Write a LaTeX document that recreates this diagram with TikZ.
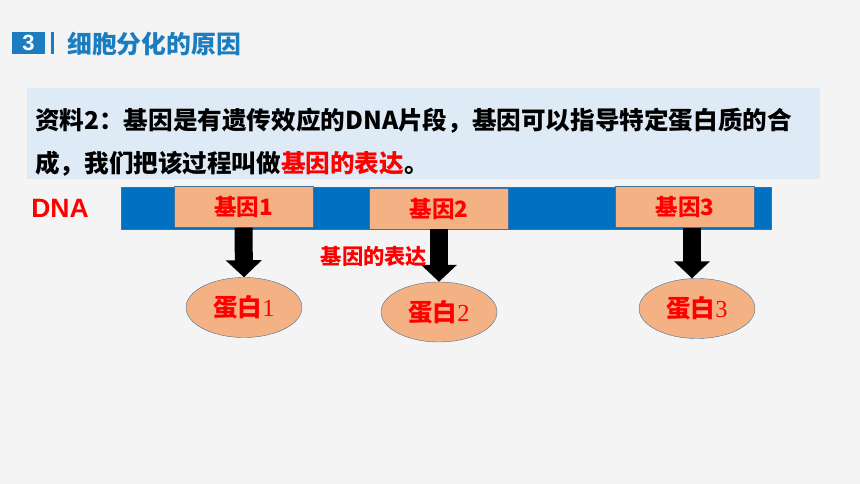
\documentclass[tikz,border=0pt]{standalone}
\usepackage{fontspec}
\setmainfont{Liberation Sans}
\newfontfamily\cjk{Noto Sans CJK SC}
\newfontfamily\serifnum{Liberation Serif}
\usetikzlibrary{shapes.geometric,arrows.meta}
\definecolor{bgcol}{HTML}{F4F4F4}
\definecolor{titleblue}{HTML}{1B7DC0}
\definecolor{panelblue}{HTML}{DEEBF7}
\definecolor{dnablue}{HTML}{0070C0}
\definecolor{genefill}{HTML}{F4B183}
\definecolor{geneline}{HTML}{41719C}
\newcommand{\px}[1]{\fontsize{#1}{#1}\selectfont}
\tikzset{
  gene/.style={draw=geneline, fill=genefill, minimum width=139pt, minimum height=41pt,
    inner sep=0pt, text=red, font=\cjk\bfseries\px{22.5}},
  prot/.style={ellipse, draw=geneline, fill=genefill, minimum width=116pt, minimum height=60pt,
    inner sep=0pt, text=red, font=\px{24.5}},
  expr/.style={line width=18pt, -{Triangle[width=35pt,length=17pt]}}
}
\begin{document}
\begin{tikzpicture}[x=1pt,y=-1pt]
    \fill[bgcol]
(0,0) rectangle
(860,484);
    \node[fill=titleblue, text=white, minimum width=33pt, minimum height=22pt, inner sep=0pt,
      font=\bfseries\px{22}] (num) at (28.5,43) {3};
    \fill[titleblue]
(51,32) rectangle
(54,54);
    \node[anchor=west, inner sep=0pt, text=titleblue, font=\cjk\bfseries\px{24.8}] (title) at (67,44) {细胞分化的原因};
    \fill[panelblue]
(27,88) rectangle
(820,179);
    \node[anchor=west, inner sep=0pt, font=\cjk\bfseries\px{24.6}] (line1) at (35,121)
      {资料2：基因是有遗传效应的DNA片段，基因可以指导特定蛋白质的合};
    \node[anchor=west, inner sep=0pt, font=\cjk\bfseries\px{24.6}] (line2) at (35,164)
      {成，我们把该过程叫做\textcolor{red}{基因的表达}。};
    \node[draw=geneline, fill=dnablue, minimum width=650pt, minimum height=42pt, inner sep=0pt] (dna) at (446,208) {};
    \node[text=red, font=\bfseries\px{26.5}] (dnalabel) at (60,208) {DNA};
    \node[gene] (g1) at (243.5,207) {基因1};
    \node[gene] (g2) at (439,208.5) {基因2};
    \node[gene] (g3) at (685,207) {基因3};
    \node[prot] (p1) at (244,307.5) {{\cjk\bfseries 蛋白}{\serifnum 1}};
    \node[prot] (p2) at (439,312) {{\cjk\bfseries 蛋白}{\serifnum 2}};
    \node[prot] (p3) at (697,308.5) {{\cjk\bfseries 蛋白}{\serifnum 3}};
    \draw[expr]
(g1.south) --
(p1.north);
    \draw[expr]
(g2.south) --
(p2.north);
    \draw[expr]
([xshift=7pt]g3.south) --
([xshift=-5pt]p3.north);
    \node[text=red, font=\cjk\bfseries\px{21.3}] (exprlabel) at (374,256) {基因的表达};
\end{tikzpicture}
\end{document}
